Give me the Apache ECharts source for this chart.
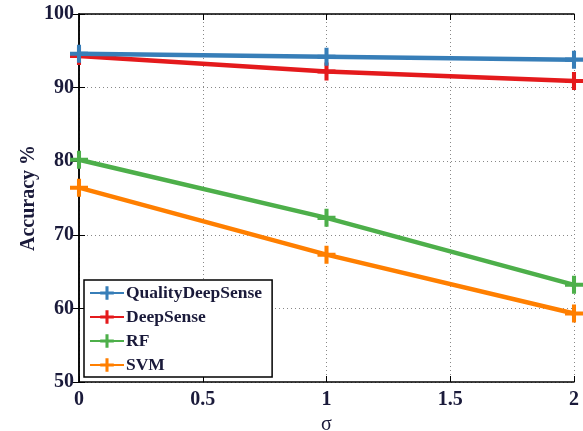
<!DOCTYPE html>
<html>
<head>
<meta charset="utf-8">
<script src="https://cdn.jsdelivr.net/npm/echarts@6/dist/echarts.min.js"></script>
<style>html,body{margin:0;padding:0;background:#fff}#c{width:583px;height:431px}</style>
</head>
<body>
<div id="c"></div>
<script>
var sigma = [0, 1, 2];
var seriesNames = ['QualityDeepSense', 'DeepSense', 'RF', 'SVM'];
var qualityDeepSense = [94.6, 94.2, 93.8];
var deepSense = [94.3, 92.2, 90.9];
var rf = [80.2, 72.3, 63.2];
var svm = [76.4, 67.3, 59.3];
var xTicks = [0, 0.5, 1, 1.5, 2];
var yTicks = [50, 60, 70, 80, 90, 100];

var colors = ['#377eb8', '#e41a1c', '#4daf4a', '#ff7f00'];
var values = [qualityDeepSense, deepSense, rf, svm];
var plus = 'path://M-1.8,-8H1.8V-1.8H8V1.8H1.8V8H-1.8V1.8H-8V-1.8H-1.8Z';
var fontFam = '"Liberation Serif", "Times New Roman", serif';

var series = seriesNames.map(function (n, i) {
  return {
    name: n,
    type: 'line',
    data: sigma.map(function (s, j) { return [s, values[i][j]]; }),
    symbol: plus,
    symbolSize: 18,
    showAllSymbol: true,
    lineStyle: { width: 4.5, color: colors[i] },
    itemStyle: { color: colors[i] },
    z: 10 - i,
    animation: false
  };
});

var chart = echarts.init(document.getElementById('c'));
chart.setOption({
  animation: false,
  grid: { left: 79, right: 9, top: 14, bottom: 49, containLabel: false, outerBoundsMode: 'none' },
  legend: {
    orient: 'vertical',
    left: 84,
    top: 280,
    width: 186,
    itemWidth: 34,
    itemHeight: 17,
    itemGap: 6,
    padding: [4, 10, 3, 5],
    borderColor: '#000',
    borderWidth: 1.5,
    backgroundColor: '#fff',
    textStyle: { fontFamily: fontFam, fontWeight: 'bold', fontSize: 17.5, color: '#1a1a3a', padding: [0, 0, 0, -3] },
    data: seriesNames
  },
  xAxis: [{
    type: 'value', min: 0, max: 2, interval: 0.5,
    name: 'σ', nameLocation: 'middle', nameGap: 33, nameMoveOverlap: false,
    nameTextStyle: { fontFamily: fontFam, fontSize: 20, color: '#1a1a3a' },
    axisLine: { lineStyle: { color: '#000', width: 1.5 } },
    axisTick: { inside: true, length: 6, lineStyle: { color: '#000' } },
    axisLabel: { fontFamily: fontFam, fontWeight: 'bold', fontSize: 20, color: '#1a1a3a', margin: 8 },
    splitLine: { show: true, lineStyle: { type: [1, 3], color: '#888' } }
  }, {
    type: 'value', min: 0, max: 2, interval: 0.5, position: 'top',
    axisLine: { lineStyle: { color: '#000', width: 1.5 } },
    axisTick: { inside: true, length: 6, lineStyle: { color: '#000' } },
    axisLabel: { show: false }, splitLine: { show: false }
  }],
  yAxis: [{
    type: 'value', min: 50, max: 100, interval: 10,
    name: 'Accuracy %', nameLocation: 'middle', nameGap: 40, nameMoveOverlap: false,
    nameTextStyle: { fontFamily: fontFam, fontWeight: 'bold', fontSize: 20, color: '#1a1a3a' },
    axisLine: { lineStyle: { color: '#000', width: 1.5 } },
    axisTick: { inside: true, length: 6, lineStyle: { color: '#000' } },
    axisLabel: { fontFamily: fontFam, fontWeight: 'bold', fontSize: 20, color: '#1a1a3a', margin: 5 },
    splitLine: { show: true, lineStyle: { type: [1, 3], color: '#888' } }
  }, {
    type: 'value', min: 50, max: 100, interval: 10, position: 'right',
    axisLine: { show: true, lineStyle: { color: '#000', width: 1.5 } },
    axisTick: { show: true, inside: true, length: 6, lineStyle: { color: '#000' } },
    axisLabel: { show: false }, splitLine: { show: false }
  }],
  series: series
});
</script>
</body>
</html>
